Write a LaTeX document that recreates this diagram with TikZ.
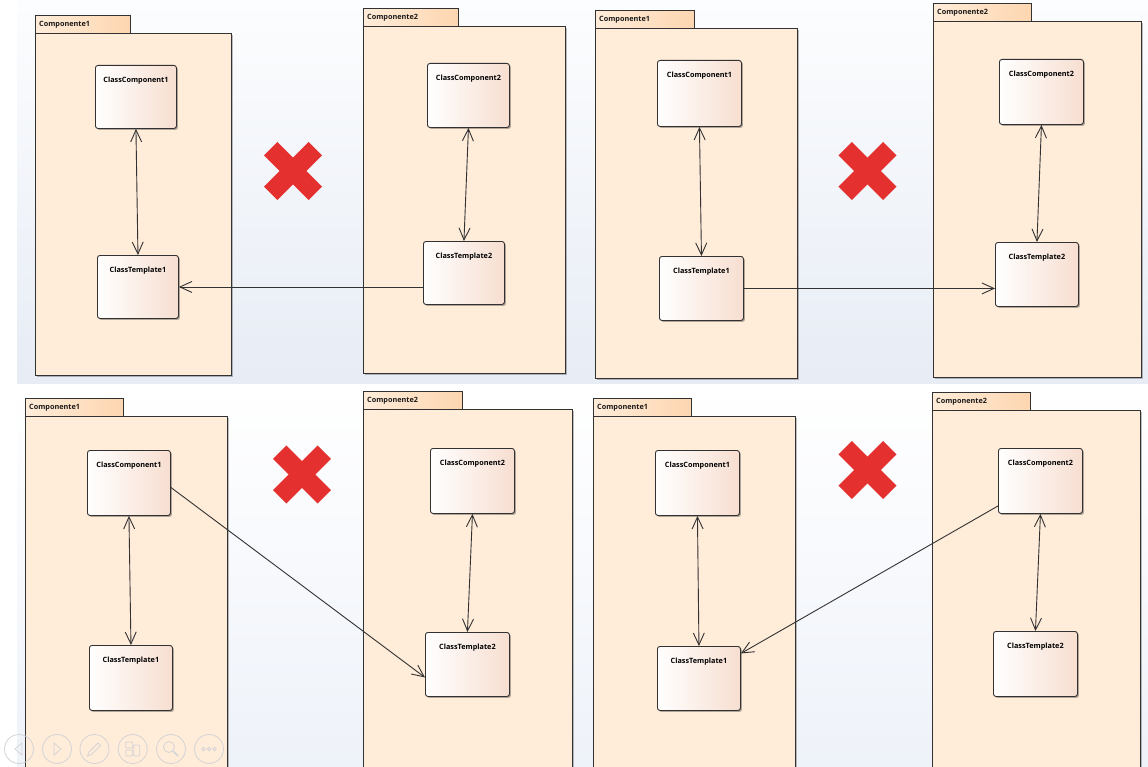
\documentclass[tikz,border=0pt]{standalone}
\usepackage{fontspec}
\newfontfamily\uifont{Open Sans}
\usetikzlibrary{arrows.meta,shadows,calc}
\definecolor{pkgbody}{RGB}{255,236,217}
\definecolor{pkgtab}{RGB}{253,214,176}
\definecolor{clsright}{RGB}{247,222,208}
\definecolor{edge}{RGB}{50,50,50}
\definecolor{xred}{RGB}{229,48,48}
\definecolor{bgtop}{RGB}{252,253,254}
\definecolor{bgbot}{RGB}{231,236,245}
\definecolor{bgbotb}{RGB}{238,242,249}
\definecolor{icon}{RGB}{212,212,214}
\tikzset{
  lbl/.style={font=\uifont\bfseries\fontsize{7.3}{8}\selectfont, inner sep=0, text=black!90},
  pkgbox/.style={draw=edge, line width=0.9bp, fill=pkgbody, anchor=north west, inner sep=0,
    drop shadow={shadow xshift=1.2bp, shadow yshift=-1.2bp, opacity=.25, fill=black}},
  tabbox/.style={draw=edge, line width=0.9bp, left color=pkgbody, right color=pkgtab,
    anchor=north west, inner sep=0, minimum height=18bp},
  cls/.style 2 args={draw=edge, line width=0.9bp, rounded corners=2.5bp, left color=white,
    right color=clsright, anchor=north west, inner sep=0, minimum width=#1bp,
    text height=17bp, text depth=#2bp, align=center,
    font=\uifont\bfseries\fontsize{7.3}{8}\selectfont,
    drop shadow={shadow xshift=1.5bp, shadow yshift=-1.5bp, opacity=.3, fill=black}},
  barb/.tip={Straight Barb[length=12bp,width=11bp]},
  bi/.style={draw=edge, line width=0.9bp, arrows={barb-barb}},
  uni/.style={draw=edge, line width=0.9bp, arrows={-barb}},
  xmark/.style={minimum size=60bp, inner sep=0,
    path picture={
      \draw[xred, line width=19bp]
        ([shift={(-22.3bp,-22.3bp)}]path picture bounding box.center) --
        ([shift={(22.3bp,22.3bp)}]path picture bounding box.center);
      \draw[xred, line width=19bp]
        ([shift={(-22.3bp,22.3bp)}]path picture bounding box.center) --
        ([shift={(22.3bp,-22.3bp)}]path picture bounding box.center);}},
  ic/.style={circle, draw=icon, line width=0.8bp, minimum size=29bp, inner sep=0},
  icsym/.style={draw=icon, line width=0.8bp}
}
\begin{document}
\begin{tikzpicture}[x=1bp, y=-1bp]
\useasboundingbox (0,0) rectangle (1148,767);
% backgrounds
\fill[white] (0,0) rectangle (1148,767);
\fill[top color=bgtop, bottom color=bgbot] (17,0) rectangle (1148,383);
\fill[top color=white, bottom color=bgbotb] (17,384) rectangle (1148,767);

% ================= Panel A (top left)
\node[tabbox, minimum width=95bp] (aT1) at (35,15) {};
\node[lbl, anchor=west] (aT1l) at ($(aT1.west)+(4,0)$) {Componente1};
\node[pkgbox, minimum width=196bp, minimum height=342bp] (aP1) at (35,33) {};
\node[tabbox, minimum width=95bp] (aT2) at (363,8) {};
\node[lbl, anchor=west] (aT2l) at ($(aT2.west)+(4,0)$) {Componente2};
\node[pkgbox, minimum width=202bp, minimum height=347bp] (aP2) at (363,26) {};
\node[cls={81}{46}] (acc1) at (95,65) {ClassComponent1};
\node[cls={81}{46}] (act1) at (97,255) {ClassTemplate1};
\node[cls={82}{47}] (acc2) at (427,63) {ClassComponent2};
\node[cls={81}{46}] (act2) at (423,241) {ClassTemplate2};
\draw[bi] (acc1.south) -- (act1.north);
\draw[bi] (acc2.south) -- (act2.north);
\draw[uni] (act2.west |- act1.east) -- (act1.east);
\node[xmark] (aX) at (293,171) {};

% ================= Panel B (top right)
\node[tabbox, minimum width=99bp] (bT1) at (595,10) {};
\node[lbl, anchor=west] (bT1l) at ($(bT1.west)+(4,0)$) {Componente1};
\node[pkgbox, minimum width=202bp, minimum height=350bp] (bP1) at (595,28) {};
\node[tabbox, minimum width=98bp] (bT2) at (933,3) {};
\node[lbl, anchor=west] (bT2l) at ($(bT2.west)+(4,0)$) {Componente2};
\node[pkgbox, minimum width=208bp, minimum height=356bp] (bP2) at (933,21) {};
\node[cls={84}{49}] (bcc1) at (657,60) {ClassComponent1};
\node[cls={84}{47}] (bct1) at (659,256) {ClassTemplate1};
\node[cls={84}{48}] (bcc2) at (999,59) {ClassComponent2};
\node[cls={83}{47}] (bct2) at (995,242) {ClassTemplate2};
\draw[bi] (bcc1.south) -- (bct1.north);
\draw[bi] (bcc2.south) -- (bct2.north);
\draw[uni] (bct1.east) -- (bct2.west |- bct1.east);
\node[xmark] (bX) at (867.5,171) {};

% ================= Panel C (bottom left)
\node[tabbox, minimum width=98bp] (cT1) at (25,398) {};
\node[lbl, anchor=west] (cT1l) at ($(cT1.west)+(4,0)$) {Componente1};
\node[pkgbox, minimum width=202bp, minimum height=380bp] (cP1) at (25,416) {};
\node[tabbox, minimum width=99bp] (cT2) at (363,391) {};
\node[lbl, anchor=west] (cT2l) at ($(cT2.west)+(4,0)$) {Componente2};
\node[pkgbox, minimum width=209bp, minimum height=390bp] (cP2) at (363,409) {};
\node[cls={83}{48}] (ccc1) at (87,450) {ClassComponent1};
\node[cls={83}{48}] (cct1) at (89,645) {ClassTemplate1};
\node[cls={84}{48}] (ccc2) at (430,448) {ClassComponent2};
\node[cls={84}{47}] (cct2) at (425,632) {ClassTemplate2};
\draw[bi] (ccc1.south) -- (cct1.north);
\draw[bi] (ccc2.south) -- (cct2.north);
\draw[uni] ([yshift=-4.5bp]ccc1.east) -- ([yshift=-13bp]cct2.west);
\node[xmark] (cX) at (302,474.5) {};

% ================= Panel D (bottom right)
\node[tabbox, minimum width=98bp] (dT1) at (593,398) {};
\node[lbl, anchor=west] (dT1l) at ($(dT1.west)+(4,0)$) {Componente1};
\node[pkgbox, minimum width=202bp, minimum height=380bp] (dP1) at (593,416) {};
\node[tabbox, minimum width=98bp] (dT2) at (932,392) {};
\node[lbl, anchor=west] (dT2l) at ($(dT2.west)+(4,0)$) {Componente2};
\node[pkgbox, minimum width=208bp, minimum height=390bp] (dP2) at (932,410) {};
\node[cls={84}{48}] (dcc1) at (655,450) {ClassComponent1};
\node[cls={83}{47}] (dct1) at (657,646) {ClassTemplate1};
\node[cls={84}{48}] (dcc2) at (998,448) {ClassComponent2};
\node[cls={84}{48}] (dct2) at (993,631) {ClassTemplate2};
\draw[bi] (dcc1.south) -- (dct1.north);
\draw[bi] (dcc2.south) -- (dct2.north);
\draw[uni] ([yshift=-25bp]dcc2.west) -- ([yshift=25bp]dct1.east);
\node[xmark] (dX) at (867.5,470) {};

% ================= presentation controls (faint)
\node[ic] (ic1) at (19,749) {};
\node[ic] (ic2) at (57,749) {};
\node[ic] (ic3) at (94.5,749) {};
\node[ic] (ic4) at (132.7,749) {};
\node[ic] (ic5) at (171,749) {};
\node[ic] (ic6) at (209,749) {};
\draw[icsym] ($(ic1.center)+(-4,0)$) -- ++(7,-6) -- ++(0,12) -- cycle;
\draw[icsym] ($(ic2.center)+(4,0)$) -- ++(-7,-6) -- ++(0,12) -- cycle;
\draw[icsym] ($(ic3.center)+(-7,7)$) -- ++(1.5,-4) -- ++(9,-9) -- ++(2.5,2.5) -- ++(-9,9) -- cycle;
\draw[icsym, rounded corners=1bp] ($(ic4.center)+(-7,-7)$) rectangle ++(7,6);
\draw[icsym, rounded corners=1bp] ($(ic4.center)+(-7,1)$) rectangle ++(7,6);
\draw[icsym, rounded corners=1bp] ($(ic4.center)+(1,-4)$) rectangle ++(6,11);
\draw[icsym] ($(ic5.center)+(-2,-2)$) circle[radius=5.5];
\draw[icsym, line width=1.5bp] ($(ic5.center)+(2,2)$) -- ++(5,5);
\draw[icsym] ($(ic6.center)+(-5.5,0)$) circle[radius=1.8];
\draw[icsym] (ic6.center) circle[radius=1.8];
\draw[icsym] ($(ic6.center)+(5.5,0)$) circle[radius=1.8];
\end{tikzpicture}
\end{document}
